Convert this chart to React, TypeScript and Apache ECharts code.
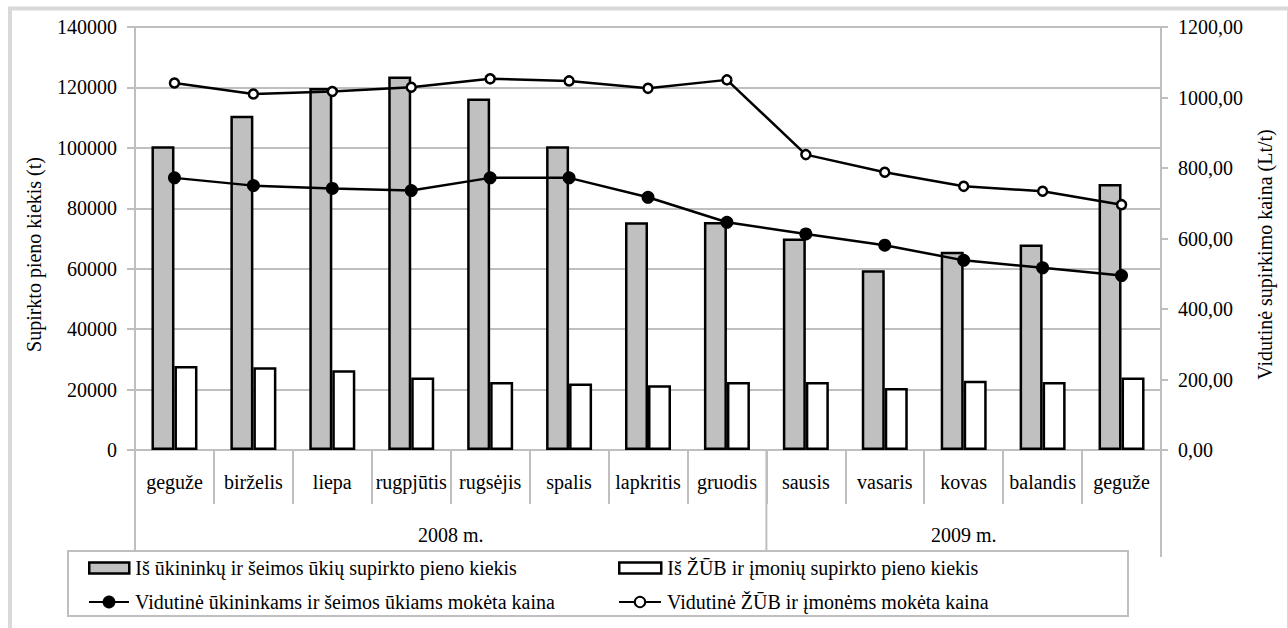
import React, { useEffect, useRef } from 'react';
import * as echarts from 'echarts';

const categories = ['geguže', 'birželis', 'liepa', 'rugpjūtis', 'rugsėjis', 'spalis', 'lapkritis', 'gruodis', 'sausis', 'vasaris', 'kovas', 'balandis', 'geguže'];
const yearLabels = ['2008 m.', '2009 m.'];
const yearSpans = [8, 5];

const farmQty = [100500, 110600, 119800, 123600, 116300, 100500, 75400, 75500, 70000, 59500, 65600, 68000, 88000];
const companyQty = [27800, 27400, 26400, 24000, 22500, 22000, 21400, 22500, 22500, 20500, 22900, 22500, 24000];
const farmPrice = [772, 750, 742, 736, 772, 772, 717, 646, 613, 581, 538, 517, 495];
const companyPrice = [1041, 1010, 1017, 1029, 1053, 1047, 1026, 1050, 838, 788, 748, 734, 696];

const seriesNames = [
  'Iš ūkininkų ir šeimos ūkių supirkto pieno kiekis',
  'Iš ŽŪB ir įmonių supirkto pieno kiekis',
  'Vidutinė ūkininkams ir šeimos ūkiams mokėta kaina',
  'Vidutinė ŽŪB ir įmonėms mokėta kaina',
];
const leftAxisTitle = 'Supirkto pieno kiekis (t)';
const rightAxisTitle = 'Vidutinė supirkimo kaina (Lt/t)';

export default function App() {
  const ref = useRef<HTMLDivElement>(null);
  useEffect(() => {
    const chart = echarts.init(ref.current as HTMLDivElement, null, { renderer: 'svg' });
    const FONT = 'Liberation Serif';
    const GRID = '#bfbfbf';
    const txt = { fontFamily: FONT, fontSize: 20, color: '#000' };
    const legendBase = {
      orient: 'horizontal',
      padding: 0,
      itemGap: 0,
      selectedMode: false,
      textStyle: { ...txt, padding: [0, 0, 0, 1] },
    };
    const option: any = {
      animation: false,
      backgroundColor: '#fff',
      textStyle: { fontFamily: FONT },
      grid: { left: 135, right: 127, top: 27, bottom: 178 },
      legend: [
        { ...legendBase, data: [seriesNames[0]], left: 88, top: 558, itemWidth: 40, itemHeight: 11, icon: 'rect',
          itemStyle: { borderColor: '#000', borderWidth: 2.5 } },
        { ...legendBase, data: [seriesNames[1]], left: 618, top: 558, itemWidth: 42, itemHeight: 11, icon: 'rect',
          itemStyle: { borderColor: '#000', borderWidth: 2.5 } },
        { ...legendBase, data: [seriesNames[2]], left: 88, top: 592, itemWidth: 40, itemHeight: 16 },
        { ...legendBase, data: [seriesNames[3]], left: 618, top: 592, itemWidth: 42, itemHeight: 13 },
      ],
      xAxis: {
        type: 'category',
        data: categories,
        boundaryGap: true,
        axisLine: { show: true, lineStyle: { color: GRID, width: 2 } },
        axisTick: { show: true, interval: 0, length: 54, lineStyle: { color: GRID, width: 2 } },
        axisLabel: { ...txt, interval: 0, margin: 22 },
        splitLine: { show: false },
      },
      yAxis: [
        {
          type: 'value', min: 0, max: 140000, interval: 20000, position: 'left',
          name: leftAxisTitle, nameLocation: 'middle', nameGap: 91,
          nameTextStyle: { ...txt, padding: [0, 32, 0, 0] },
          axisLine: { show: true, lineStyle: { color: GRID, width: 2 } },
          axisTick: { show: true, length: 8, lineStyle: { color: GRID, width: 2 } },
          axisLabel: { ...txt, margin: 18, formatter: (v: number) => String(v) },
          splitLine: { show: true, lineStyle: { color: GRID, width: 2 } },
        },
        {
          type: 'value', min: 0, max: 1200, interval: 200, position: 'right',
          name: rightAxisTitle, nameLocation: 'middle', nameGap: 94,
          nameTextStyle: { ...txt, padding: [0, 32, 0, 0] },
          axisLine: { show: true, lineStyle: { color: GRID, width: 2 } },
          axisTick: { show: true, length: 7, lineStyle: { color: GRID, width: 2 } },
          axisLabel: { ...txt, margin: 17, formatter: (v: number) => v.toFixed(2).replace('.', ',') },
          splitLine: { show: false },
        },
      ],
      series: [
        {
          name: seriesNames[0], type: 'bar', yAxisIndex: 0, data: farmQty,
          barWidth: 23, barGap: '0%',
          itemStyle: { color: '#c0c0c0', borderColor: '#000', borderWidth: 2.5 },
        },
        {
          name: seriesNames[1], type: 'bar', yAxisIndex: 0, data: companyQty,
          barWidth: 23, barGap: '0%',
          itemStyle: { color: '#ffffff', borderColor: '#000', borderWidth: 2.5 },
        },
        {
          name: seriesNames[2], type: 'line', yAxisIndex: 1, data: farmPrice,
          symbol: 'circle', symbolSize: 13,
          lineStyle: { color: '#000', width: 2.5 },
          itemStyle: { color: '#000', borderWidth: 0 },
          z: 3,
        },
        {
          name: seriesNames[3], type: 'line', yAxisIndex: 1, data: companyPrice,
          symbol: 'circle', symbolSize: 9,
          lineStyle: { color: '#000', width: 2.5 },
          itemStyle: { color: '#fff', borderColor: '#000', borderWidth: 2.5 },
          z: 3,
        },
      ],
    };
    chart.setOption(option);

    const c0 = chart.convertToPixel({ xAxisIndex: 0 }, 0) as number;
    const c1 = chart.convertToPixel({ xAxisIndex: 0 }, 1) as number;
    const bw = c1 - c0;
    const x0 = c0 - bw / 2;
    const yZero = chart.convertToPixel({ yAxisIndex: 0 }, 0) as number;

    const graphics: any[] = [];
    graphics.push({
      type: 'rect', silent: true, z: 0,
      shape: { x: 10, y: 8.5, width: 1279, height: 700 },
      style: { fill: 'none', stroke: '#d9d9d9', lineWidth: 4 },
    });
    let start = 0;
    const boundaries: number[] = [0];
    yearLabels.forEach((label, i) => {
      const center = x0 + (start + yearSpans[i] / 2) * bw;
      graphics.push({
        type: 'text', silent: true, z: 5,
        style: { text: label, x: center, y: yZero + 85, align: 'center', verticalAlign: 'middle', fontFamily: FONT, fontSize: 20, fill: '#000' },
      });
      start += yearSpans[i];
      boundaries.push(start);
    });
    boundaries.forEach((b, i) => {
      const x = x0 + b * bw;
      const yEnd = i === boundaries.length - 1 ? yZero + 107 : yZero + 100;
      graphics.push({
        type: 'line', silent: true, z: 1,
        shape: { x1: x, y1: yZero, x2: x, y2: yEnd },
        style: { stroke: GRID, lineWidth: 2 },
      });
    });
    graphics.push({
      type: 'rect', silent: true, z: 2,
      shape: { x: 68, y: 551, width: 1060, height: 65 },
      style: { fill: '#fff', stroke: GRID, lineWidth: 2 },
    });
    chart.setOption({ graphic: graphics });

    return () => chart.dispose();
  }, []);
  return <div ref={ref} style={{ position: 'absolute', left: 0, top: 0, width: 1288, height: 628, background: '#fff' }} />;
}
